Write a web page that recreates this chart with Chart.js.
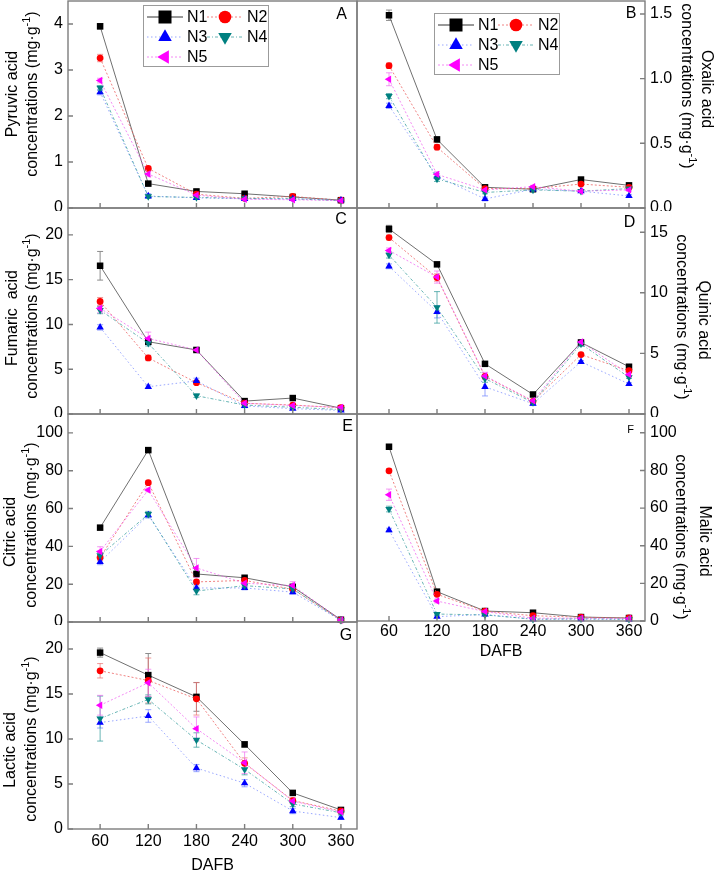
<!DOCTYPE html>
<html>
<head>
<meta charset="utf-8">
<title>Organic acid concentrations</title>
<script src="https://cdn.jsdelivr.net/npm/chart.js@4.4.1/dist/chart.umd.min.js"></script>
<style>
  html, body { margin: 0; padding: 0; background: #fff; }
  body { width: 716px; height: 873px; overflow: hidden; position: relative; }
  canvas { position: absolute; }
</style>
</head>
<body>
<canvas id="panelA"></canvas>
<canvas id="panelB"></canvas>
<canvas id="panelC"></canvas>
<canvas id="panelD"></canvas>
<canvas id="panelE"></canvas>
<canvas id="panelF"></canvas>
<canvas id="panelG"></canvas>
<script>
const days = [60, 120, 180, 240, 300, 360];
const xTicks = [60, 120, 180, 240, 300, 360];
const seriesNames = ['N1', 'N2', 'N3', 'N4', 'N5'];

// rows are N1..N5, columns follow days
const pyruvic = [
  [3.95, 0.53, 0.36, 0.31, 0.24, 0.17],
  [3.26, 0.86, 0.30, 0.21, 0.25, 0.17],
  [2.52, 0.26, 0.22, 0.20, 0.20, 0.17],
  [2.61, 0.25, 0.23, 0.21, 0.20, 0.16],
  [2.77, 0.74, 0.28, 0.19, 0.18, 0.16]
];
const pyruvicErr = [
  [0.06, 0.03, 0.03, 0.02, 0.02, 0.02],
  [0.08, 0.04, 0.02, 0.02, 0.02, 0.02],
  [0.06, 0.05, 0.02, 0.02, 0.02, 0.02],
  [0.05, 0.04, 0.02, 0.02, 0.02, 0.02],
  [0.05, 0.06, 0.02, 0.02, 0.02, 0.02]
];
const pyruvicTicks = [0, 1, 2, 3, 4];

const oxalic = [
  [1.49, 0.53, 0.16, 0.145, 0.22, 0.175],
  [1.10, 0.47, 0.15, 0.15, 0.185, 0.16],
  [0.79, 0.245, 0.07, 0.145, 0.13, 0.093],
  [0.865, 0.225, 0.12, 0.14, 0.13, 0.15],
  [0.995, 0.26, 0.14, 0.165, 0.13, 0.14]
];
const oxalicErr = [
  [0.04, 0.02, 0.01, 0.01, 0.015, 0.01],
  [0.02, 0.02, 0.01, 0.01, 0.01, 0.01],
  [0.02, 0.02, 0.015, 0.01, 0.01, 0.01],
  [0.02, 0.02, 0.01, 0.01, 0.01, 0.01],
  [0.05, 0.02, 0.01, 0.01, 0.01, 0.01]
];
const oxalicTicks = [0, 0.5, 1.0, 1.5];

const fumaric = [
  [16.55, 8.07, 7.15, 1.44, 1.78, 0.65],
  [12.56, 6.26, 3.5, 1.2, 1.0, 0.7],
  [9.67, 3.04, 3.7, 0.9, 0.6, 0.4],
  [11.6, 7.9, 2.04, 1.0, 0.75, 0.5],
  [11.8, 8.44, 7.15, 1.2, 0.95, 0.74]
];
const fumaricErr = [
  [1.6, 0.3, 0.2, 0.2, 0.15, 0.1],
  [0.45, 0.3, 0.2, 0.2, 0.1, 0.1],
  [0.3, 0.2, 0.3, 0.2, 0.1, 0.1],
  [0.4, 0.3, 0.2, 0.2, 0.1, 0.1],
  [0.5, 0.7, 0.2, 0.2, 0.1, 0.1]
];
const fumaricTicks = [0, 5, 10, 15, 20];

const quinic = [
  [15.27, 12.35, 4.14, 1.61, 5.9, 3.9],
  [14.56, 11.26, 3.1, 1.05, 4.9, 3.57],
  [12.19, 8.43, 2.24, 0.85, 4.31, 2.48],
  [13.12, 8.8, 2.92, 0.95, 5.78, 3.03],
  [13.5, 11.3, 3.14, 1.09, 5.95, 3.27]
];
const quinicErr = [
  [0.3, 0.15, 0.1, 0.1, 0.1, 0.1],
  [0.2, 0.3, 0.15, 0.1, 0.1, 0.1],
  [0.2, 0.5, 0.75, 0.15, 0.1, 0.1],
  [0.25, 1.3, 0.3, 0.1, 0.2, 0.1],
  [0.2, 0.5, 0.3, 0.1, 0.2, 0.1]
];
const quinicTicks = [0, 5, 10, 15];

const citric = [
  [49.9, 90.9, 25.4, 23.4, 18.6, 1.2],
  [34.1, 73.7, 21.2, 22.0, 17.3, 1.0],
  [31.8, 56.5, 18.0, 18.0, 15.8, 0.8],
  [35.2, 57.0, 16.4, 19.2, 17.5, 0.9],
  [37.3, 69.8, 28.6, 20.5, 19.3, 1.1]
];
const citricErr = [
  [0.8, 0.8, 0.8, 0.8, 0.6, 0.3],
  [1.5, 0.8, 0.8, 1.0, 0.8, 0.3],
  [1.5, 1.5, 1.5, 1.0, 1.0, 0.3],
  [1.5, 1.5, 2.0, 1.0, 1.0, 0.3],
  [2.5, 1.0, 5.0, 1.5, 2.0, 0.3]
];
const citricTicks = [0, 20, 40, 60, 80, 100];

const malic = [
  [92.6, 15.6, 5.3, 4.4, 2.1, 1.6],
  [79.8, 14.2, 5.2, 2.8, 2.0, 1.6],
  [48.3, 2.3, 3.5, 0.9, 1.0, 0.8],
  [59.5, 3.7, 3.2, 1.0, 1.2, 1.0],
  [67.1, 10.6, 5.0, 1.5, 1.5, 1.3]
];
const malicErr = [
  [1.0, 0.8, 0.5, 0.4, 0.3, 0.2],
  [1.0, 0.8, 0.5, 0.4, 0.3, 0.2],
  [1.0, 0.5, 0.4, 0.3, 0.2, 0.2],
  [1.5, 0.5, 0.4, 0.3, 0.2, 0.2],
  [3.0, 1.0, 0.5, 0.3, 0.2, 0.2]
];
const malicTicks = [0, 20, 40, 60, 80, 100];

const lactic = [
  [19.6, 17.1, 14.68, 9.4, 4.01, 2.12],
  [17.58, 16.5, 14.46, 7.3, 3.16, 2.0],
  [11.82, 12.56, 6.77, 5.09, 2.0, 1.26],
  [12.27, 14.4, 9.89, 6.62, 2.79, 1.8],
  [13.75, 16.25, 11.15, 7.36, 3.1, 1.9]
];
const lacticErr = [
  [0.5, 2.4, 1.6, 0.3, 0.2, 0.15],
  [0.8, 2.5, 1.8, 0.6, 0.3, 0.2],
  [0.6, 0.7, 0.4, 0.4, 0.3, 0.2],
  [2.5, 0.5, 0.8, 0.6, 0.3, 0.2],
  [1.1, 1.5, 1.3, 1.2, 0.3, 0.2]
];
const lacticTicks = [0, 5, 10, 15, 20];

const FONT = '"Liberation Sans", Arial, Helvetica, sans-serif';
const FRAME = '#7d7d7d';

const looks = [
  { fill: '#000000', line: '#707070', dash: [], shape: 'rect', rot: 0, r: 4.6, lr: 9.2, err: '#8c8c8c' },
  { fill: '#ff0000', line: 'rgba(235,90,90,0.75)', dash: [2, 2], shape: 'circle', rot: 0, r: 3.4, lr: 6.3, err: 'rgba(235,110,110,0.7)' },
  { fill: '#0000ff', line: 'rgba(110,130,255,0.7)', dash: [1.5, 2.5], shape: 'triangle', rot: 0, r: 4.3, lr: 7.8, err: 'rgba(110,130,255,0.7)' },
  { fill: '#008080', line: 'rgba(40,150,150,0.7)', dash: [3, 2, 1, 2], shape: 'triangle', rot: 180, r: 4.3, lr: 7.8, err: 'rgba(40,150,150,0.7)' },
  { fill: '#ff00ff', line: 'rgba(240,90,240,0.7)', dash: [2, 2], shape: 'triangle', rot: -90, r: 4.3, lr: 7.8, err: 'rgba(240,110,240,0.7)' }
];

const panels = [
  { id: 'panelA', vals: pyruvic, err: pyruvicErr, yTicks: pyruvicTicks, ymax: 4.5, dec: 0, side: 'left',
    area: [68, 1, 357, 208], letter: ['A', 341.5, 19, 16], title: 'Pyruvic acid', titleAt: [[13, 94], [33, 94]], legend: [143, 5] },
  { id: 'panelB', vals: oxalic, err: oxalicErr, yTicks: oxalicTicks, ymax: 1.6, dec: 1, side: 'right',
    area: [357, 1, 645, 208], letter: ['B', 631, 18, 16], title: 'Oxalic acid', titleAt: [[706, 89], [686, 86]], legend: [434, 13] },
  { id: 'panelC', vals: fumaric, err: fumaricErr, yTicks: fumaricTicks, ymax: 23, dec: 0, side: 'left',
    area: [68, 208, 357, 414], letter: ['C', 341, 224, 16], title: 'Fumaric  acid', titleAt: [[12.5, 318], [32.5, 316]] },
  { id: 'panelD', vals: quinic, err: quinicErr, yTicks: quinicTicks, ymax: 17, dec: 0, side: 'right',
    area: [357, 208, 645, 414], letter: ['D', 629.5, 227, 16], title: 'Quinic acid', titleAt: [[703, 320], [681, 317]] },
  { id: 'panelE', vals: citric, err: citricErr, yTicks: citricTicks, ymax: 110, dec: 0, side: 'left',
    area: [68, 414, 357, 622], letter: ['E', 347.5, 431, 16], title: 'Citric acid', titleAt: [[11, 532], [32, 525]] },
  { id: 'panelF', vals: malic, err: malicErr, yTicks: malicTicks, ymax: 110, dec: 0, side: 'right',
    area: [357, 414, 645, 621], letter: ['F', 630.5, 433, 11], title: 'Malic acid', titleAt: [[704, 541], [680, 537]],
    bottom: 659, tickPad: 1 },
  { id: 'panelG', vals: lactic, err: lacticErr, yTicks: lacticTicks, ymax: 23, dec: 0, side: 'left',
    area: [68, 622, 357, 829], letter: ['G', 346, 640, 16], title: 'Lactic acid', titleAt: [[11, 750], [32, 739]],
    bottom: 873, tickPad: 3 }
];

function textAt(ctx, parts, cx, cy, ang) {
  ctx.save();
  ctx.translate(cx, cy);
  ctx.rotate(ang);
  ctx.textBaseline = 'middle';
  ctx.textAlign = 'left';
  const fonts = parts.map(q => (q.sup ? '11px ' : '16px ') + FONT);
  let w = 0;
  parts.forEach((q, i) => { ctx.font = fonts[i]; w += ctx.measureText(q.t).width; });
  let x = -w / 2;
  parts.forEach((q, i) => {
    ctx.font = fonts[i];
    ctx.fillText(q.t, x, q.sup ? -6 : 0);
    x += ctx.measureText(q.t).width;
  });
  ctx.restore();
}

function noPad(s) {
  s.paddingLeft = 0;
  s.paddingRight = 0;
  s.paddingTop = 0;
  s.paddingBottom = 0;
}

function decorPlugin(p, cl, ct) {
  return {
    id: 'decor',
    beforeDatasetsDraw(chart) {
      const ctx = chart.ctx, xs = chart.scales.x, ys = chart.scales.y;
      ctx.save();
      ctx.lineWidth = 1;
      p.err.forEach((row, s) => {
        ctx.strokeStyle = looks[s].err;
        row.forEach((e, i) => {
          if (!e) return;
          const x = xs.getPixelForValue(days[i]);
          const y1 = ys.getPixelForValue(p.vals[s][i] - e);
          const y2 = ys.getPixelForValue(p.vals[s][i] + e);
          ctx.beginPath();
          ctx.moveTo(x, y1); ctx.lineTo(x, y2);
          ctx.moveTo(x - 3, y1); ctx.lineTo(x + 3, y1);
          ctx.moveTo(x - 3, y2); ctx.lineTo(x + 3, y2);
          ctx.stroke();
        });
      });
      ctx.restore();
    },
    afterDraw(chart) {
      const ctx = chart.ctx, a = chart.chartArea, xs = chart.scales.x, ys = chart.scales.y;
      ctx.save();
      ctx.strokeStyle = FRAME;
      ctx.lineWidth = 1.4;
      ctx.strokeRect(a.left, a.top, a.right - a.left, a.bottom - a.top);
      ctx.beginPath();
      xTicks.forEach(v => {
        const x = xs.getPixelForValue(v);
        ctx.moveTo(x, a.bottom); ctx.lineTo(x, a.bottom - 5);
      });
      p.yTicks.forEach(v => {
        const y = ys.getPixelForValue(v);
        if (p.side === 'left') { ctx.moveTo(a.left, y); ctx.lineTo(a.left + 5, y); }
        else { ctx.moveTo(a.right, y); ctx.lineTo(a.right - 5, y); }
      });
      ctx.stroke();

      // axis titles
      ctx.fillStyle = '#000';
      const ang = p.side === 'left' ? -Math.PI / 2 : Math.PI / 2;
      textAt(ctx, [{ t: p.title }], p.titleAt[0][0] - cl, p.titleAt[0][1] - ct, ang);
      textAt(ctx, [{ t: 'concentrations (mg·g' }, { t: '-1', sup: true }, { t: ')' }],
        p.titleAt[1][0] - cl, p.titleAt[1][1] - ct, ang);

      // panel letter
      const [lt, lx, ly, ls] = p.letter;
      ctx.font = ls + 'px ' + FONT;
      ctx.textAlign = 'center';
      ctx.textBaseline = 'alphabetic';
      ctx.fillText(lt, lx - cl, ly - ct);

      // legend box
      if (p.legend) {
        const bx = p.legend[0] - cl, by = p.legend[1] - ct;
        ctx.strokeStyle = '#9b9b9b';
        ctx.lineWidth = 1;
        ctx.strokeRect(bx + 0.5, by + 0.5, 125, 61);
        const slots = [[0, 0], [1, 0], [0, 1], [1, 1], [0, 2]];
        slots.forEach(([c, r], s) => {
          const L = looks[s];
          const mx = bx + (c ? 82 : 22), my = by + 12 + r * 20;
          ctx.strokeStyle = s === 0 ? '#333' : L.line;
          ctx.setLineDash(L.dash);
          ctx.beginPath();
          ctx.moveTo(mx - 18, my); ctx.lineTo(mx + 18, my);
          ctx.stroke();
          ctx.setLineDash([]);
          ctx.fillStyle = L.fill;
          if (Chart.helpers && Chart.helpers.drawPoint) {
            Chart.helpers.drawPoint(ctx, { pointStyle: L.shape, radius: L.lr, rotation: L.rot, borderWidth: 0 }, mx, my);
          } else {
            ctx.beginPath(); ctx.arc(mx, my, L.lr * 0.8, 0, Math.PI * 2); ctx.fill();
          }
          ctx.fillStyle = '#000';
          ctx.font = '16px ' + FONT;
          ctx.textAlign = 'left';
          ctx.textBaseline = 'middle';
          ctx.fillText(seriesNames[s], mx + 22, my + 1);
        });
      }
      ctx.restore();
    }
  };
}

panels.forEach(p => {
  const left = p.side === 'left';
  const cl = left ? 0 : 350, cw = left ? 360 : 366;
  const [L, T, R, B] = p.area;
  const ct = T - 2, cb = p.bottom || B + 3;
  const cv = document.getElementById(p.id);
  cv.width = cw;
  cv.height = cb - ct;
  cv.style.left = cl + 'px';
  cv.style.top = ct + 'px';
  const yW = left ? L - cl : cl + cw - R;
  const xH = p.bottom ? cb - B : 0;
  const hasX = !!p.bottom;

  new Chart(cv, {
    type: 'line',
    data: {
      datasets: p.vals.map((row, s) => ({
        label: seriesNames[s],
        data: row.map((v, i) => ({ x: days[i], y: v })),
        borderColor: looks[s].line,
        borderWidth: 1,
        borderDash: looks[s].dash,
        pointStyle: looks[s].shape,
        pointRotation: looks[s].rot,
        pointRadius: looks[s].r,
        pointBackgroundColor: looks[s].fill,
        pointBorderWidth: 0,
        tension: 0,
        fill: false,
        clip: false,
        order: 4 - s
      }))
    },
    options: {
      responsive: false,
      animation: false,
      events: [],
      layout: {
        autoPadding: false,
        padding: {
          left: left ? 0 : L - cl,
          right: left ? cl + cw - R : 0,
          top: T - ct,
          bottom: hasX ? 0 : cb - B
        }
      },
      plugins: { legend: { display: false }, tooltip: { enabled: false } },
      scales: {
        x: {
          type: 'linear',
          min: 20,
          max: 380,
          afterBuildTicks: s => { s.ticks = xTicks.map(v => ({ value: v })); },
          afterFit: s => { s.height = xH; noPad(s); },
          grid: { display: false, drawTicks: false },
          border: { display: false },
          ticks: {
            display: hasX,
            autoSkip: false,
            maxRotation: 0,
            padding: p.tickPad || 0,
            color: '#000',
            font: { family: FONT, size: 16 }
          },
          title: {
            display: hasX,
            text: 'DAFB',
            color: '#000',
            padding: 0,
            font: { family: FONT, size: 16, lineHeight: 0.9 }
          }
        },
        y: {
          type: 'linear',
          position: p.side,
          min: 0,
          max: p.ymax,
          afterBuildTicks: s => { s.ticks = p.yTicks.map(v => ({ value: v })); },
          afterFit: s => { s.width = yW; noPad(s); },
          grid: { display: false, drawTicks: false },
          border: { display: false },
          ticks: {
            padding: 5,
            color: '#000',
            font: { family: FONT, size: 16 },
            callback: v => p.dec ? Number(v).toFixed(p.dec) : v
          }
        }
      }
    },
    plugins: [decorPlugin(p, cl, ct)]
  });
});
</script>
</body>
</html>
